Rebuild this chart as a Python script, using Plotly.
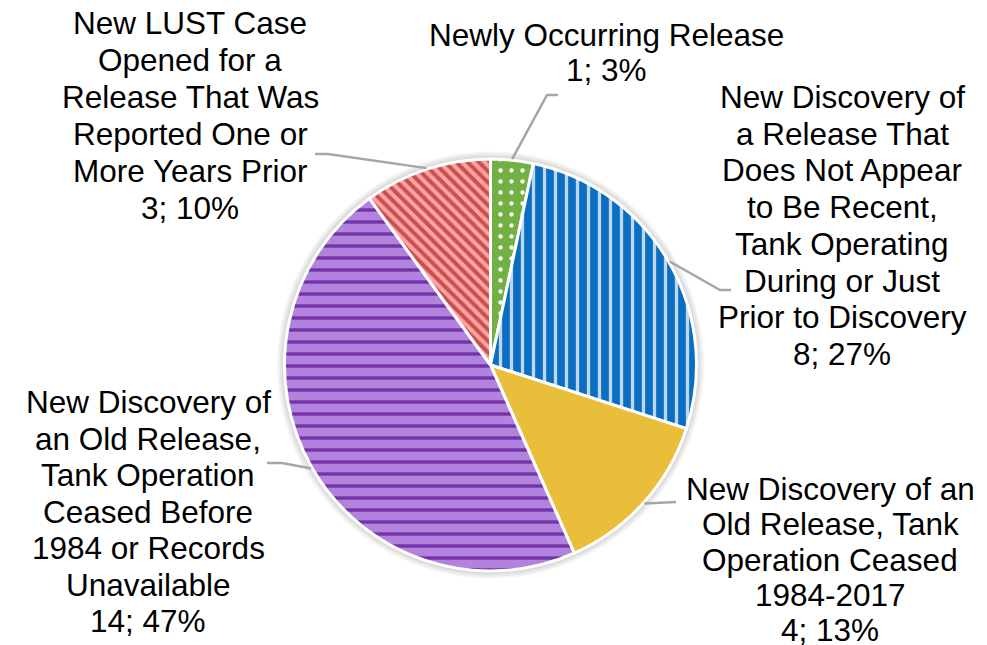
import math
import plotly.graph_objects as go

# ---- data ----
categories = [
    "Newly Occurring Release",
    "New Discovery of a Release That Does Not Appear to Be Recent, Tank Operating During or Just Prior to Discovery",
    "New Discovery of an Old Release, Tank Operation Ceased 1984-2017",
    "New Discovery of an Old Release, Tank Operation Ceased Before 1984 or Records Unavailable",
    "New LUST Case Opened for a Release That Was Reported One or More Years Prior",
]
values = [1, 8, 4, 14, 3]
label_lines = [
    ["Newly Occurring Release"],
    ["New Discovery of", "a Release That", "Does Not Appear", "to Be Recent,",
     "Tank Operating", "During or Just", "Prior to Discovery"],
    ["New Discovery of an", "Old Release, Tank", "Operation Ceased", "1984-2017"],
    ["New Discovery of", "an Old Release,", "Tank Operation", "Ceased Before",
     "1984 or Records", "Unavailable"],
    ["New LUST Case", "Opened for a", "Release That Was", "Reported One or",
     "More Years Prior"],
]

# ---- styles ----
W, H = 987, 645
cx, cy, R = 490.5, 365.0, 206.0   # pixels
bg_colors = ["#72B043", "#0A6FC2", "#E9BE3A", "#B283DC", "#FFA4A4"]
fg_colors = ["#FFFFFF", "#BDD7EE", "#E9BE3A", "#7232A8", "#C9504E"]
shapes_p = [".", "|", "", "-", "\\"]
sizes = [11, 11, 10, 12, 8]
solid = [0.12, 0.3, 0.3, 0.28, 0.5]

# label text block placement (px centre x, first-line centre y, line step)
label_pos = [(606, 35, 35), (842, 97, 36.7), (830, 489, 35.3), (148, 402, 36.5), (190, 23, 37)]
# leader line elbow and end points (px)
leader_pts = [
    [(547, 95), (558, 95)],
    [(720, 290), (731, 290)],
    [(676, 502)],
    [(282, 463), (267, 463)],
    [(328, 154), (315, 154)],
]

def px(x):
    return x / W

def py(y):
    return 1 - y / H

fig = go.Figure()
fig.add_trace(go.Pie(
    labels=categories,
    values=values,
    sort=False,
    direction="clockwise",
    rotation=0,
    textinfo="none",
    hoverinfo="label+value+percent",
    marker=dict(
        colors=bg_colors,
        line=dict(color="white", width=3),
        pattern=dict(shape=shapes_p, fgcolor=fg_colors, bgcolor=bg_colors,
                     size=sizes, solidity=solid, fillmode="replace"),
    ),
    domain=dict(x=[px(cx - R), px(cx + R)], y=[py(cy + R), py(cy - R)]),
    showlegend=False,
))

total = sum(values)
annotations = []
shapes = []

# soft shadow around pie
for k in range(1, 6):
    rr = R + 1.5 * k
    shapes.append(dict(type="circle", xref="paper", yref="paper", layer="below",
                       x0=px(cx - rr), x1=px(cx + rr), y0=py(cy + rr), y1=py(cy - rr),
                       fillcolor="rgba(0,0,0,0.035)", line=dict(width=0)))

cum = 0
for i, v in enumerate(values):
    mid = (cum + v / 2) / total * 2 * math.pi
    cum += v
    pct = round(v / total * 100)
    lines = label_lines[i] + [f"{v}; {pct}%"]
    x0, y0, step = label_pos[i]
    for j, t in enumerate(lines):
        annotations.append(dict(
            text=t, x=px(x0), y=py(y0 + j * step), xref="paper", yref="paper",
            xanchor="center", yanchor="middle", showarrow=False,
            font=dict(family="Liberation Sans, Arial, sans-serif", size=31.5, color="black"),
        ))
    sx = cx + (R + 1) * math.sin(mid)
    sy = cy - (R + 1) * math.cos(mid)
    path = f"M {px(sx)},{py(sy)}"
    for (ex, ey) in leader_pts[i]:
        path += f" L {px(ex)},{py(ey)}"
    shapes.append(dict(type="path", path=path, xref="paper", yref="paper",
                       line=dict(color="#A6A6A6", width=2.5)))

fig.update_layout(
    width=W, height=H,
    margin=dict(l=0, r=0, t=0, b=0),
    paper_bgcolor="white",
    plot_bgcolor="white",
    annotations=annotations,
    shapes=shapes,
)

fig.write_html("out.html", config={"displayModeBar": False},
               post_script="document.body.style.margin='0px';")
